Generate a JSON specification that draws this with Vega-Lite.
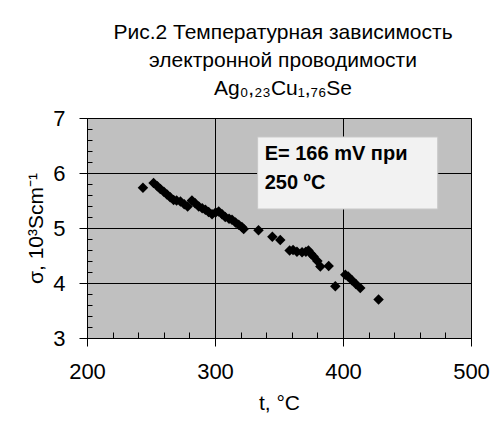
{
  "$schema": "https://vega.github.io/schema/vega-lite/v6.json",
  "autosize": "none",
  "width": 384,
  "height": 220,
  "padding": {"left": 87, "top": 118, "right": 21, "bottom": 83},
  "background": "white",
  "title": {
    "text": ["Рис.2 Температурная зависимость", "электронной проводимости", "Ag₀,₂₃Cu₁,₇₆Se"],
    "font": "Liberation Sans",
    "fontSize": 21,
    "fontWeight": "normal",
    "lineHeight": 28,
    "color": "#000000",
    "anchor": "middle",
    "dx": 4,
    "offset": 8
  },
  "config": {
    "view": {"fill": "#c0c0c0", "stroke": "#808080", "strokeWidth": 1},
    "axis": {"labelFont": "Liberation Sans", "titleFont": "Liberation Sans", "labelColor": "#000000", "titleColor": "#000000", "domainColor": "#000000", "tickColor": "#000000", "gridColor": "#000000", "gridOpacity": 1, "labelFlush": false}
  },
  "datasets": {
    "pts": [
      {"t": 243.7, "s": 5.73}, {"t": 252, "s": 5.82}, {"t": 255, "s": 5.76}, {"t": 257.3, "s": 5.71},
      {"t": 260, "s": 5.66}, {"t": 262.5, "s": 5.61}, {"t": 265, "s": 5.56}, {"t": 267.7, "s": 5.51},
      {"t": 270, "s": 5.5}, {"t": 273, "s": 5.48}, {"t": 276, "s": 5.43}, {"t": 278.6, "s": 5.39},
      {"t": 282, "s": 5.5}, {"t": 284.5, "s": 5.45}, {"t": 287.3, "s": 5.39}, {"t": 290, "s": 5.36},
      {"t": 292.5, "s": 5.33}, {"t": 295, "s": 5.29}, {"t": 297.7, "s": 5.25}, {"t": 300.5, "s": 5.28},
      {"t": 302.9, "s": 5.3}, {"t": 305.5, "s": 5.25}, {"t": 308, "s": 5.2}, {"t": 311, "s": 5.17},
      {"t": 313.3, "s": 5.15}, {"t": 316, "s": 5.1}, {"t": 318.5, "s": 5.06}, {"t": 321, "s": 5.02},
      {"t": 322.4, "s": 4.98}, {"t": 334, "s": 4.96}, {"t": 344.8, "s": 4.84}, {"t": 351, "s": 4.78},
      {"t": 358.3, "s": 4.59}, {"t": 361, "s": 4.6}, {"t": 364, "s": 4.57}, {"t": 368, "s": 4.56},
      {"t": 371, "s": 4.57}, {"t": 373, "s": 4.59}, {"t": 375, "s": 4.53}, {"t": 377, "s": 4.48},
      {"t": 380, "s": 4.4}, {"t": 382.3, "s": 4.3}, {"t": 388.8, "s": 4.31}, {"t": 394, "s": 3.94},
      {"t": 401.8, "s": 4.15}, {"t": 404, "s": 4.12}, {"t": 407, "s": 4.05}, {"t": 410, "s": 3.98},
      {"t": 413.5, "s": 3.91}, {"t": 427.8, "s": 3.7}
    ],
    "box": [{"t1": 333.3, "t2": 474, "s1": 5.345, "s2": 6.655}],
    "note": [
      {"t": 338.8, "s": 6.23, "label": "E= 166 mV при"},
      {"t": 338.8, "s": 5.71, "label": "250 ºC"}
    ]
  },
  "layer": [
    {
      "data": {"name": "box"},
      "mark": {"type": "rect", "fill": "#f2f2f2", "stroke": "#c8c8c8", "strokeWidth": 1},
      "encoding": {
        "x": {"field": "t1", "type": "quantitative", "scale": {"domain": [200, 500], "nice": false, "zero": false}, "axis": null},
        "x2": {"field": "t2"},
        "y": {"field": "s1", "type": "quantitative", "scale": {"domain": [3, 7], "nice": false, "zero": false}, "axis": null},
        "y2": {"field": "s2"}
      }
    },
    {
      "data": {"name": "note"},
      "mark": {"type": "text", "align": "left", "baseline": "alphabetic", "font": "Liberation Sans", "fontSize": 20, "fontWeight": "bold", "color": "#000000"},
      "encoding": {
        "x": {"field": "t", "type": "quantitative", "axis": null},
        "y": {"field": "s", "type": "quantitative", "axis": null},
        "text": {"field": "label"}
      }
    },
    {
      "data": {"name": "pts"},
      "mark": {"type": "point", "shape": "diamond", "filled": true, "size": 110, "color": "#000000", "opacity": 1},
      "encoding": {
        "x": {"field": "t", "type": "quantitative", "title": "t, °C",
          "axis": {"orient": "bottom", "values": [200, 300, 400, 500], "grid": true, "tickSize": 8, "labelFontSize": 22, "labelPadding": 15, "titleFontSize": 21, "titleFontWeight": "normal", "titlePadding": 10, "domainWidth": 1}},
        "y": {"field": "s", "type": "quantitative", "title": "σ, 10³Scm⁻¹",
          "axis": {"orient": "left", "values": [3, 4, 5, 6, 7], "grid": true, "tickSize": 8, "labelFontSize": 22, "labelPadding": 14, "titleFontSize": 21, "titleFontWeight": "normal", "titlePadding": 6, "domainWidth": 1}}
      }
    },
    {
      "data": {"name": "pts"},
      "mark": {"type": "point", "opacity": 0},
      "encoding": {
        "x": {"field": "t", "type": "quantitative",
          "axis": {"orient": "bottom", "title": null, "labels": false, "domain": false, "grid": false, "tickSize": -6, "values": [220, 240, 260, 280, 320, 340, 360, 380, 420, 440, 460, 480]}},
        "y": {"field": "s", "type": "quantitative",
          "axis": {"orient": "left", "title": null, "labels": false, "domain": false, "grid": false, "tickSize": -5, "values": [3.2, 3.4, 3.6, 3.8, 4.2, 4.4, 4.6, 4.8, 5.2, 5.4, 5.6, 5.8, 6.2, 6.4, 6.6, 6.8]}}
      }
    }
  ],
  "resolve": {"axis": {"x": "independent", "y": "independent"}}
}
